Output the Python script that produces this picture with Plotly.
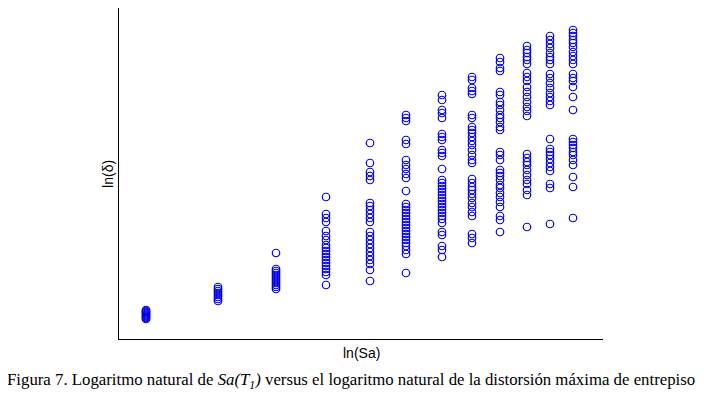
import plotly.graph_objects as go

# Column positions (ln(Sa), arbitrary units)
ln_sa_levels = [27, 99, 157, 207, 251, 287, 323, 353, 381, 408, 431, 454]

# ln(delta) values per column (arbitrary units)
ln_delta_cols = [
    [29, 28, 27, 26, 25, 24, 23, 22, 21, 20],
    [52, 50, 48, 46, 44, 42, 40, 38],
    [86, 70, 68, 66, 64, 62, 60, 58, 56, 54, 52, 50],
    [142, 125, 121, 117, 108, 103, 99, 94, 91, 88, 85, 82, 79, 76, 73, 70, 67, 64, 54],
    [196, 176, 167, 163, 159, 136, 133, 129, 125, 121, 117, 107, 103, 99, 95, 91, 87, 83, 79, 75, 69, 58],
    [224, 221, 218, 199, 195, 179, 174, 170, 165, 161, 148, 135, 132, 129, 126, 123, 120, 117, 114,
     111, 108, 105, 102, 99, 96, 93, 89, 85, 66],
    [244, 239, 229, 226, 221, 205, 202, 199, 189, 186, 183, 170, 159, 156, 153, 150, 147, 144, 141,
     138, 135, 132, 129, 126, 123, 120, 116, 107, 104, 93, 89, 82],
    [262, 259, 251, 248, 245, 224, 221, 212, 209, 206, 202, 198, 194, 189, 184, 179, 176, 160, 156,
     152, 149, 145, 141, 136, 132, 127, 123, 105, 101, 96],
    [281, 277, 271, 268, 247, 244, 237, 234, 229, 224, 221, 217, 212, 209, 187, 184, 179, 169, 166,
     163, 159, 154, 151, 146, 142, 137, 132, 123, 119, 107],
    [293, 289, 286, 282, 279, 275, 266, 262, 258, 252, 247, 242, 237, 232, 228, 223, 185, 181, 177,
     174, 169, 164, 159, 155, 149, 144, 112],
    [303, 299, 295, 291, 286, 282, 279, 275, 265, 261, 256, 251, 246, 242, 238, 234, 200, 190, 187,
     184, 180, 176, 172, 168, 155, 151, 115],
    [309, 306, 303, 299, 296, 292, 287, 283, 279, 275, 265, 261, 258, 252, 242, 229, 200, 197, 194,
     191, 187, 184, 179, 174, 162, 152, 121],
]

xs, ys = [], []
for xv, col in zip(ln_sa_levels, ln_delta_cols):
    for yv in col:
        xs.append(xv)
        ys.append(yv)

fig = go.Figure(go.Scatter(
    x=xs, y=ys, mode="markers",
    marker=dict(symbol="circle-open", size=7.5, color="rgb(0,0,230)", line=dict(width=1.2)),
    showlegend=False, hoverinfo="skip",
))

axis_common = dict(showgrid=False, zeroline=False, showticklabels=False, ticks="",
                   showline=True, linecolor="black", linewidth=1)
fig.update_xaxes(range=[0, 484], **axis_common)
fig.update_yaxes(range=[0, 331], **axis_common)

fig.update_layout(
    width=696, height=391,
    margin=dict(l=111, r=101, t=0, b=60),
    plot_bgcolor="white", paper_bgcolor="white",
    annotations=[
        dict(text="ln(Sa)", xref="paper", yref="paper", x=0.5, y=-0.042,
             xanchor="center", yanchor="middle", showarrow=False,
             font=dict(family="Liberation Sans, Arial", size=14, color="black")),
        dict(text="ln(δ)", xref="paper", yref="paper", x=-0.024, y=0.5,
             xanchor="center", yanchor="middle", showarrow=False, textangle=-90,
             font=dict(family="Liberation Sans, Arial", size=14, color="black")),
        dict(text="Figura 7. Logaritmo natural de <i>Sa(T<sub>1</sub>)</i> versus el logaritmo natural de la distorsión máxima de entrepiso",
             xref="paper", yref="paper", x=0.479, y=-0.127,
             xanchor="center", yanchor="middle", showarrow=False,
             font=dict(family="Liberation Serif, Times New Roman", size=16.8, color="black")),
    ],
)

fig.write_html("out.html")
